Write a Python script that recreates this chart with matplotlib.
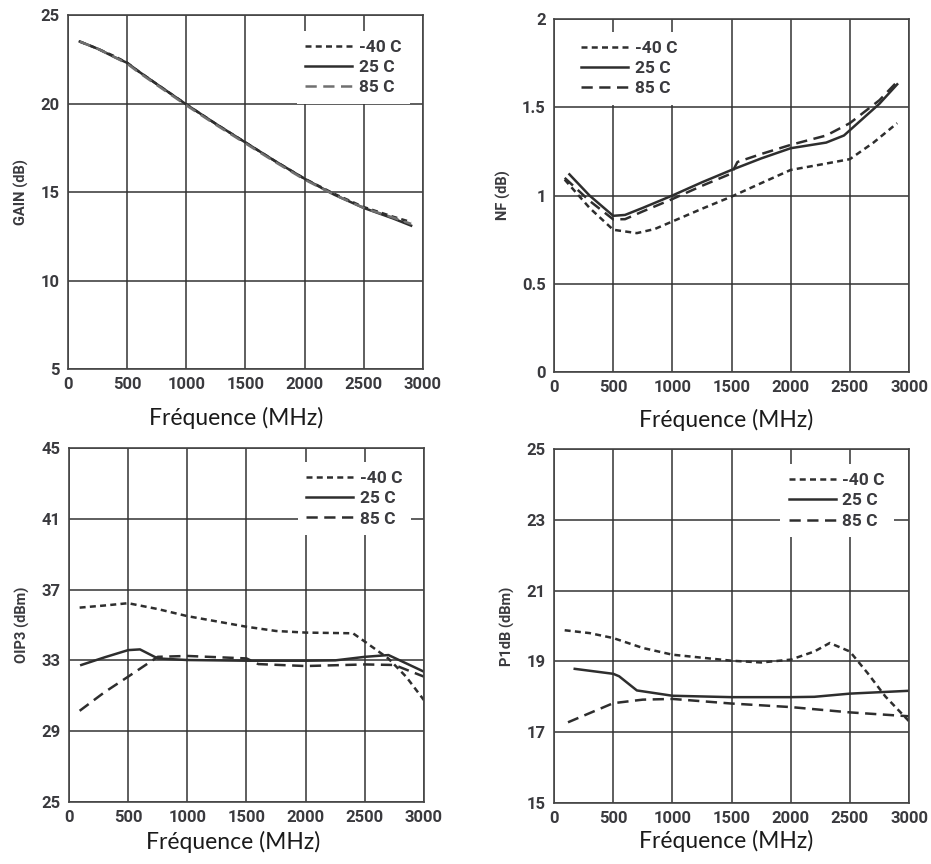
import matplotlib
matplotlib.use('Agg')
import matplotlib.pyplot as plt
from matplotlib.lines import Line2D

# frequency (MHz) and measured values per temperature
gain_freq = [100, 250, 400, 500, 600, 750, 1000, 1250, 1500, 1750, 2000, 2250, 2500, 2750, 2900]
gain_m40 = [23.5, 23.1, 22.65, 22.3, 21.8, 21.1, 19.95, 18.85, 17.8, 16.75, 15.75, 14.9, 14.15, 13.6, 13.3]
gain_25 = [23.5, 23.1, 22.6, 22.3, 21.8, 21.1, 19.95, 18.85, 17.8, 16.75, 15.75, 14.85, 14.1, 13.5, 13.1]
gain_85 = [23.5, 23.1, 22.6, 22.25, 21.75, 21.05, 19.9, 18.8, 17.75, 16.7, 15.7, 14.85, 14.1, 13.55, 13.2]

nf_freq_25 = [130, 300, 500, 600, 750, 1000, 1250, 1500, 1750, 2000, 2300, 2450, 2600, 2750, 2900]
nf_25 = [1.12, 1.0, 0.885, 0.89, 0.93, 1.0, 1.075, 1.145, 1.21, 1.268, 1.3, 1.34, 1.43, 1.52, 1.63]
nf_freq_85 = [90, 300, 500, 600, 750, 1000, 1250, 1500, 1550, 1750, 2000, 2300, 2500, 2750, 2900]
nf_85 = [1.1, 0.97, 0.865, 0.866, 0.91, 0.98, 1.055, 1.125, 1.19, 1.235, 1.287, 1.34, 1.41, 1.54, 1.645]
nf_freq_m40 = [90, 300, 500, 700, 850, 1000, 1250, 1500, 1750, 2000, 2250, 2500, 2700, 2900]
nf_m40 = [1.09, 0.93, 0.806, 0.787, 0.81, 0.853, 0.925, 0.994, 1.07, 1.145, 1.175, 1.206, 1.3, 1.41]

oip3_freq_m40 = [90, 300, 500, 750, 1000, 1250, 1500, 1750, 2000, 2400, 2500, 2700, 2850, 3000]
oip3_m40 = [35.98, 36.1, 36.23, 35.9, 35.5, 35.2, 34.9, 34.66, 34.57, 34.53, 34.06, 33.1, 32.07, 30.75]
oip3_freq_25 = [104, 300, 500, 600, 750, 1000, 1500, 2000, 2250, 2500, 2700, 3000]
oip3_25 = [32.74, 33.17, 33.58, 33.62, 33.11, 33.02, 32.98, 32.98, 33.0, 33.2, 33.3, 32.36]
oip3_freq_85 = [90, 300, 500, 750, 1000, 1500, 1600, 2000, 2500, 2750, 3000]
oip3_85 = [30.15, 31.2, 32.08, 33.2, 33.25, 33.11, 32.79, 32.68, 32.77, 32.74, 32.08]

p1db_freq_m40 = [90, 300, 500, 750, 1000, 1500, 1750, 2000, 2200, 2330, 2500, 2650, 2800, 3000]
p1db_m40 = [19.88, 19.8, 19.66, 19.38, 19.19, 19.02, 18.97, 19.05, 19.28, 19.52, 19.28, 18.67, 18.01, 17.31]
p1db_freq_25 = [175, 500, 550, 700, 1000, 1500, 2000, 2200, 2500, 3000]
p1db_25 = [18.79, 18.65, 18.58, 18.18, 18.03, 17.99, 17.99, 18.0, 18.09, 18.17]
p1db_freq_85 = [118, 500, 750, 1000, 1500, 2000, 2500, 3000]
p1db_85 = [17.28, 17.82, 17.92, 17.94, 17.81, 17.71, 17.56, 17.45]

temp_labels = ['-40 C', '25 C', '85 C']

COND = ['Roboto', 'DejaVu Sans']
TXT = '#3a3a3e'
LINE = '#2e2e2e'
ST_M40 = (0, (2.4, 1.7))
ST_85 = (0, (4.5, 2.6))

fig = plt.figure(figsize=(9.31, 8.64), dpi=100)

panels = [
    # rect, ylim, yticks, ylabel, legend anchor, xlabel position (axes frac)
    ([0.0730, 0.5729, 0.3813, 0.4097], (5, 25), [5, 10, 15, 20, 25], 'GAIN (dB)', (0.62, 0.98), (0.475, -0.158)),
    ([0.5951, 0.5694, 0.3813, 0.4086], (0, 2), [0, 0.5, 1, 1.5, 2], 'NF (dB)', (0.028, 0.988), (0.485, -0.155)),
    ([0.0741, 0.0718, 0.3813, 0.4097], (25, 45), [25, 29, 33, 37, 41, 45], 'OIP3 (dBm)', (0.62, 0.985), (0.463, -0.134)),
    ([0.5951, 0.0706, 0.3813, 0.4097], (15, 25), [15, 17, 19, 21, 23, 25], 'P1dB (dBm)', (0.612, 0.982), (0.486, -0.128)),
]

series = [
    [(gain_freq, gain_m40, ST_M40, LINE), (gain_freq, gain_25, '-', LINE), (gain_freq, gain_85, ST_85, '#707070')],
    [(nf_freq_m40, nf_m40, ST_M40, LINE), (nf_freq_25, nf_25, '-', LINE), (nf_freq_85, nf_85, ST_85, LINE)],
    [(oip3_freq_m40, oip3_m40, ST_M40, LINE), (oip3_freq_25, oip3_25, '-', LINE), (oip3_freq_85, oip3_85, ST_85, LINE)],
    [(p1db_freq_m40, p1db_m40, ST_M40, LINE), (p1db_freq_25, p1db_25, '-', LINE), (p1db_freq_85, p1db_85, ST_85, LINE)],
]

for (rect, ylim, yticks, ylabel, anchor, xlab_pos), lines in zip(panels, series):
    ax = fig.add_axes(rect)
    handles = []
    for (x, y, ls, c), lab in zip(lines, temp_labels):
        ax.plot(x, y, linestyle=ls, color=c, linewidth=1.8)
        handles.append(Line2D([], [], linestyle=ls, color=c, linewidth=1.8))
    ax.set_xlim(0, 3000)
    ax.set_ylim(*ylim)
    ax.set_xticks([0, 500, 1000, 1500, 2000, 2500, 3000])
    ax.set_yticks(yticks)
    ax.set_yticklabels([('%g' % t) for t in yticks])
    ax.grid(True, color='#333333', linewidth=1.1)
    ax.set_axisbelow(True)
    for s in ax.spines.values():
        s.set_color('#444444')
        s.set_linewidth(1.2)
    ax.tick_params(length=0, pad=6, labelcolor=TXT)
    for t in ax.get_xticklabels() + ax.get_yticklabels():
        t.set_family(COND)
        t.set_fontweight('bold')
        t.set_fontsize(12)
    ax.set_ylabel(ylabel, family=COND, fontweight='bold', fontsize=10.5, color=TXT, labelpad=8)
    ax.set_xlabel('Fréquence (MHz)', family=['Lato', 'DejaVu Sans'], fontsize=16.5,
                  color='#1a1a1a')
    ax.xaxis.set_label_coords(*xlab_pos)
    ax.xaxis.label.set_va('baseline')
    leg = ax.legend(handles, temp_labels, loc='upper left', bbox_to_anchor=anchor,
                    frameon=True, facecolor='white', edgecolor='none', framealpha=1,
                    fancybox=False, handlelength=2.7, handletextpad=0.4, labelspacing=0.3,
                    borderpad=0.5, prop={'family': COND, 'weight': 'bold', 'size': 12.5})
    for t in leg.get_texts():
        t.set_color(TXT)

fig.savefig('out.png', dpi=100)
